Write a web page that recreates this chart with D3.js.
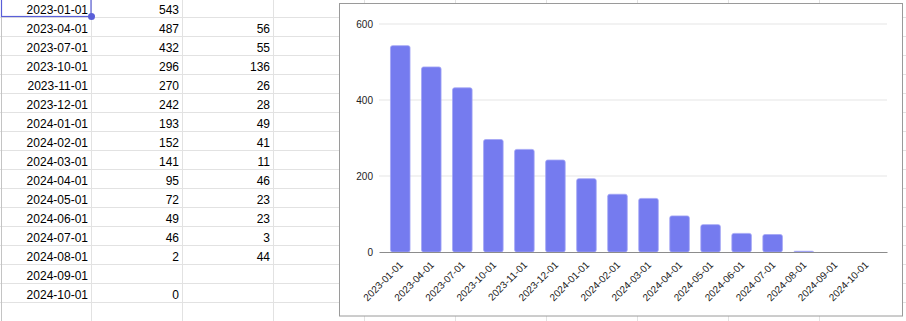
<!DOCTYPE html>
<html>
<head>
<meta charset="utf-8">
<script src="https://cdn.jsdelivr.net/npm/d3@7/dist/d3.min.js"></script>
<style>
  body { margin: 0; background: #fff; overflow: hidden; }
  text { font-family: "Liberation Sans", Arial, sans-serif; }
</style>
</head>
<body>
<div id="sheet"></div>
<script>
// sheet columns A, B, C
let dates = ["2023-01-01", "2023-04-01", "2023-07-01", "2023-10-01", "2023-11-01", "2023-12-01",
             "2024-01-01", "2024-02-01", "2024-03-01", "2024-04-01", "2024-05-01", "2024-06-01",
             "2024-07-01", "2024-08-01", "2024-09-01", "2024-10-01"];
let totals = [543, 487, 432, 296, 270, 242, 193, 152, 141, 95, 72, 49, 46, 2, null, 0];
let diffs = [null, 56, 55, 136, 26, 28, 49, 41, 11, 46, 23, 23, 3, 44, null, null];
let yTicks = [0, 200, 400, 600];

function sheet(svg) {
  let rowH = 19;
  let firstLine = 17;
  let colW = 91;

  // grid lines
  svg.selectAll(".rowline")
     .data(d3.range(17))
     .enter().append("line")
     .attr("x1", 0).attr("x2", 906)
     .attr("y1", d => firstLine + d * rowH + 0.5)
     .attr("y2", d => firstLine + d * rowH + 0.5)
     .attr("stroke", "#e2e2e2");

  svg.selectAll(".colline")
     .data(d3.range(1, 10))
     .enter().append("line")
     .attr("y1", 0).attr("y2", 321)
     .attr("x1", d => d * colW + 0.5)
     .attr("x2", d => d * colW + 0.5)
     .attr("stroke", "#e2e2e2");

  svg.append("line")
     .attr("x1", 1.5).attr("x2", 1.5)
     .attr("y1", 0).attr("y2", 321)
     .attr("stroke", "#c4c4c4");

  let cols = [dates, totals, diffs];
  cols.forEach((col, c) => {
    svg.selectAll(".cell" + c)
       .data(col)
       .enter().append("text")
       .attr("x", (c + 1) * colW - 3)
       .attr("y", (d, i) => firstLine + i * rowH - 3.5)
       .attr("text-anchor", "end")
       .attr("font-size", 12)
       .attr("fill", "#000")
       .text(d => d == null ? "" : d);
  });

  // selected cell A1
  svg.append("rect")
     .attr("x", 1.5).attr("y", -2)
     .attr("width", 89.5).attr("height", 18.5)
     .attr("fill", "none")
     .attr("stroke", "#5a5fd8")
     .attr("stroke-width", 1.2);

  svg.append("circle")
     .attr("cx", 91.5).attr("cy", 16.5).attr("r", 3.5)
     .attr("fill", "#5a5fd8");
}

function chart(svg) {
  let left = 379, right = 887, top = 24, bottom = 252;

  svg.append("rect")
     .attr("x", 339.5).attr("y", 3.5)
     .attr("width", 563).attr("height", 312.5)
     .attr("fill", "#fff")
     .attr("stroke", "#9a9a9a");

  const xScale = d3.scaleBand()
                   .domain(dates)
                   .range([left, right])
                   .padding(0.37);

  const yScale = d3.scaleLinear()
                   .domain([0, 600])
                   .range([bottom, top]);

  // gridlines
  svg.selectAll(".grid")
     .data(yTicks.filter(t => t > 0))
     .enter().append("line")
     .attr("x1", left).attr("x2", right)
     .attr("y1", d => yScale(d)).attr("y2", d => yScale(d))
     .attr("stroke", "#e6e6e6")
     .attr("stroke-width", 1.2);

  const yAxis = d3.axisLeft(yScale)
                  .tickValues(yTicks)
                  .tickSize(0)
                  .tickPadding(6);

  let gy = svg.append("g")
     .attr("transform", "translate(" + left + ",0)")
     .call(yAxis);
  gy.select(".domain").remove();
  gy.selectAll("text")
    .attr("font-family", "Liberation Sans, Arial, sans-serif")
    .attr("font-size", 10)
    .attr("fill", "#222");

  // bars
  svg.selectAll(".bar")
     .data(dates.map((d, i) => ({ date: d, value: totals[i] })).filter(d => d.value != null))
     .enter().append("rect")
     .attr("x", d => xScale(d.date))
     .attr("width", xScale.bandwidth())
     .attr("y", d => yScale(d.value))
     .attr("height", d => bottom - yScale(d.value))
     .attr("rx", 2)
     .attr("fill", "#757bef")
     .attr("stroke", "#a3a6f5")
     .attr("stroke-width", 0.8);

  const xAxis = d3.axisBottom(xScale)
                  .tickSize(0)
                  .tickSizeOuter(0);

  let gx = svg.append("g")
     .attr("transform", "translate(0," + bottom + ")")
     .call(xAxis);
  gx.select(".domain")
    .attr("stroke", "#8c8c8c")
    .attr("stroke-width", 1.2);
  gx.selectAll("text")
    .attr("font-family", "Liberation Sans, Arial, sans-serif")
    .attr("font-size", 10)
    .attr("fill", "#222")
    .attr("text-anchor", "end")
    .attr("x", 0).attr("y", 0)
    .attr("dy", "0.35em")
    .attr("transform", "translate(1,11) rotate(-45)");
}

const svg = d3.select("#sheet")
              .append("svg")
              .attr("width", 906)
              .attr("height", 321);

sheet(svg);
chart(svg);
</script>
</body>
</html>
